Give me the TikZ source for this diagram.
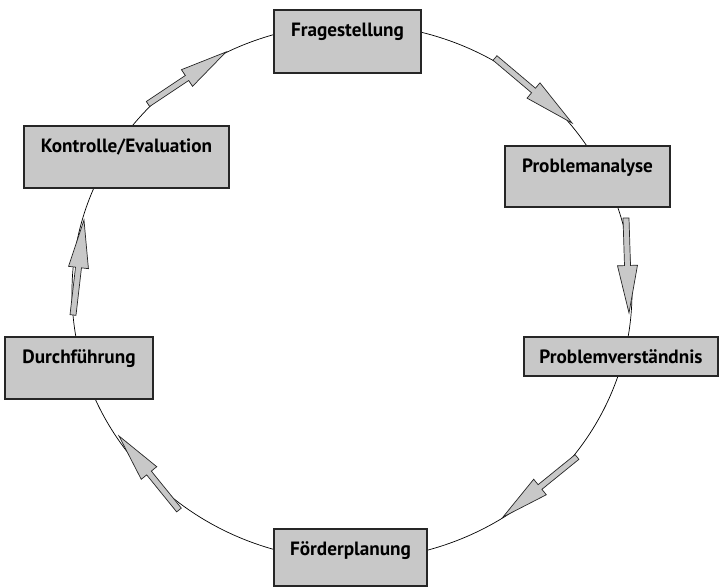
\documentclass[tikz,border=0pt]{standalone}
\usepackage{fontspec}
\setmainfont{PT Sans}
\usetikzlibrary{calc,positioning}
\definecolor{boxgray}{RGB}{200,200,200}

% block arrow from a tail coordinate to a tip coordinate
\newcommand{\blockarrow}[2]{%
  \coordinate (mid) at ($(#1)!0.5!(#2)$);
  \filldraw[flow] ($(#1)!0.09cm!90:(#2)$) -- ($(mid)!0.09cm!90:(#2)$)
    -- ($(mid)!0.3cm!90:(#2)$) -- (#2) -- ($(mid)!0.3cm!-90:(#2)$)
    -- ($(mid)!0.09cm!-90:(#2)$) -- ($(#1)!0.09cm!-90:(#2)$) -- cycle;}

\begin{document}
\begin{tikzpicture}[x=0.03cm,y=-0.03cm,
    stage/.style 2 args={draw=black!85, line width=1pt, fill=boxgray,
      inner xsep=0pt, inner ysep=0pt, minimum width=#1,
      text height=0.79cm, text depth=#2,
      font=\fontsize{16.4}{18}\selectfont\bfseries},
    flow/.style={draw=black!85, line width=0.6pt, fill=boxgray, line join=miter}]
  \useasboundingbox (0,0) rectangle (720,587);

  % the cycle
  \draw[line width=0.6pt] (352,292) ellipse [x radius=8.4cm, y radius=8.04cm];

  % stages
  \node[stage={4.41cm}{1.10cm}] (frage)   at (347.5,41.5) {Fragestellung};
  \node[stage={4.95cm}{1.04cm}] (analyse) at (587.5,176.5) {Problemanalyse};
  \node[stage={5.82cm}{0.38cm}] (verst)   at (621,356.5)  {Problemverständnis};
  \node[stage={4.59cm}{0.92cm}] (foerder) at (350.5,557.5) {Förderplanung};
  \node[stage={4.44cm}{1.07cm}] (durch)   at (79,368)     {Durchführung};
  \node[stage={6.15cm}{1.07cm}] (kontr)   at (126.5,157)  {Kontrolle/Evaluation};

  % arrows along the cycle
  \coordinate (a1s) at (495,58);  \coordinate (a1e) at (572,123);
  \coordinate (a2s) at (626,218); \coordinate (a2e) at (629,313);
  \coordinate (a3s) at (577,457); \coordinate (a3e) at (503,517);
  \coordinate (a4s) at (179,510); \coordinate (a4e) at (119,436);
  \coordinate (a5s) at (73,315);  \coordinate (a5e) at (84,220);
  \coordinate (a6s) at (148,104); \coordinate (a6e) at (226,52);
  \foreach \i in {1,...,6}
    \blockarrow{a\i s}{a\i e};
\end{tikzpicture}
\end{document}
